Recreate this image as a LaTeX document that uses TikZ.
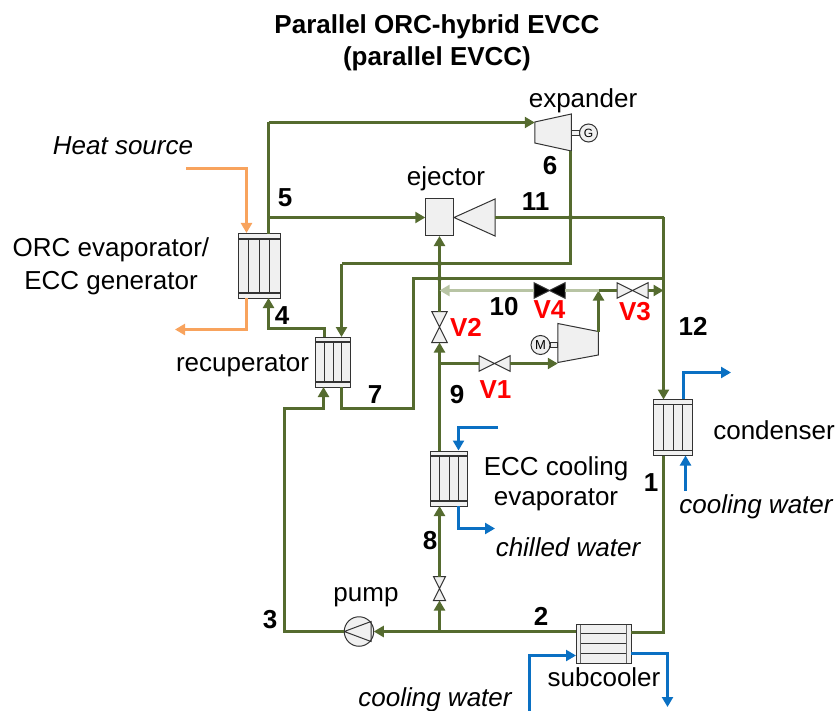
\documentclass[tikz,border=0pt]{standalone}
\usepackage{fontspec}
\setmainfont{Liberation Sans}
\usetikzlibrary{arrows.meta, calc}
\definecolor{pipeGreen}{RGB}{85, 107, 47}
\definecolor{pipeLight}{RGB}{184, 196, 164}
\definecolor{waterBlue}{RGB}{10, 112, 195}
\definecolor{heatOrange}{RGB}{248, 163, 93}
\definecolor{partGray}{RGB}{240, 240, 240}
\tikzset{
    pipe/.style={draw=pipeGreen, line width=2.3pt},
    flow/.style={pipe, -{Triangle[length=10pt,width=11pt]}},
    lightflow/.style={draw=pipeLight, line width=2.3pt, -{Triangle[length=10pt,width=11pt]}},
    water/.style={draw=waterBlue, line width=2.3pt, -{Triangle[length=10pt,width=11pt]}},
    heat/.style={draw=heatOrange, line width=2.3pt, -{Triangle[length=10pt,width=11pt]}},
    joint/.style={circle, fill=pipeGreen, inner sep=0pt, minimum size=5pt},
    part/.style={draw=black!80, fill=partGray, line width=1pt},
    hidden/.style={inner sep=0pt, outer sep=0pt},
    hexv/.style={part, inner sep=0pt, outer sep=0pt, path picture={
        \foreach \f in {0.25,0.5,0.75}
            \draw[black!80, line width=1pt] ($(path picture bounding box.north west)!\f!(path picture bounding box.north east)$) -- ($(path picture bounding box.south west)!\f!(path picture bounding box.south east)$);
        \fill[partGray] (path picture bounding box.north west) rectangle ([yshift=-5pt]path picture bounding box.north east);
        \fill[partGray] (path picture bounding box.south west) rectangle ([yshift=5pt]path picture bounding box.south east);
        \draw[black!80, line width=1.4pt] ([yshift=-5pt]path picture bounding box.north west) -- ([yshift=-5pt]path picture bounding box.north east);
        \draw[black!80, line width=1.4pt] ([yshift=5pt]path picture bounding box.south west) -- ([yshift=5pt]path picture bounding box.south east);
    }},
    hexh/.style={part, inner sep=0pt, outer sep=0pt, path picture={
        \foreach \f in {0.25,0.5,0.75}
            \draw[black!80, line width=1pt] ($(path picture bounding box.north west)!\f!(path picture bounding box.south west)$) -- ($(path picture bounding box.north east)!\f!(path picture bounding box.south east)$);
        \fill[partGray] (path picture bounding box.north west) rectangle ([xshift=4.5pt]path picture bounding box.south west);
        \fill[partGray] (path picture bounding box.north east) rectangle ([xshift=-4.5pt]path picture bounding box.south east);
        \draw[black!60, line width=1.4pt] ([xshift=4.5pt]path picture bounding box.north west) -- ([xshift=4.5pt]path picture bounding box.south west);
        \draw[black!60, line width=1.4pt] ([xshift=-4.5pt]path picture bounding box.north east) -- ([xshift=-4.5pt]path picture bounding box.south east);
    }},
    txt/.style={inner sep=0pt, font=\fontsize{26}{31}\selectfont},
    ital/.style={txt, font=\fontsize{26}{31}\selectfont\itshape},
    num/.style={inner sep=0pt, font=\fontsize{26}{31}\selectfont\bfseries},
    vname/.style={num, text=red},
}
% bow-tie valve: [fill]{name}{position}{width}{height}
\newcommand{\valvebow}[5][partGray]{
    \node[hidden, minimum width=#4pt, minimum height=#5pt] (#2) at (#3) {};
    \ifdim #4pt>#5pt
        \draw[draw=black!80, fill=#1, line width=1pt] (#2.north west) -- (#2.south east) -- (#2.north east) -- (#2.south west) -- cycle;
    \else
        \draw[draw=black!80, fill=#1, line width=1pt] (#2.north west) -- (#2.north east) -- (#2.south west) -- (#2.south east) -- cycle;
    \fi
}
\begin{document}
\begin{tikzpicture}[x=1pt, y=-1pt]
    \useasboundingbox (0,0) rectangle (837,711);

    % heat exchangers
    \node[hexv, minimum width=42pt, minimum height=64pt] (evapORC) at (259,266) {};
    \node[hexv, minimum width=35pt, minimum height=50pt] (recup) at (333,362) {};
    \node[hexv, minimum width=37pt, minimum height=55pt] (evapECC) at (449,478.5) {};
    \node[hexv, minimum width=39pt, minimum height=56pt] (condenser) at (673,427.5) {};
    \node[hexh, minimum width=55pt, minimum height=39pt] (subcooler) at (603.5,643.5) {};

    % expander and generator
    \node[hidden, minimum width=36.5pt, minimum height=37pt] (expander) at (553,132.5) {};
    \draw[part] (expander.north east) -- (expander.south east) -- ($(expander.south west)+(0,-8)$) -- ($(expander.north west)+(0,8)$) -- cycle;
    \node[circle, part, inner sep=0pt, minimum size=18pt, font=\fontsize{12}{12}\selectfont] (gen) at (588.5,133) {G};
    \draw[part] (571,131) rectangle (579.5,135.5);

    % ejector
    \node[part, inner sep=0pt, outer sep=0pt, minimum width=28.5pt, minimum height=37pt] (ejectorBox) at (439.5,217.5) {};
    \node[hidden, minimum width=41pt, minimum height=37pt] (nozzle) at (474.5,217.5) {};
    \draw[part] (nozzle.west) -- (nozzle.north east) -- (nozzle.south east) -- cycle;

    % compressor and motor
    \node[hidden, minimum width=40.5pt, minimum height=39pt] (comp) at (578,343) {};
    \draw[part] (comp.north west) -- (comp.south west) -- ($(comp.south east)+(0,-7.5)$) -- ($(comp.north east)+(0,8)$) -- cycle;
    \node[circle, part, inner sep=0pt, minimum size=19pt, font=\fontsize{13}{13}\selectfont] (motor) at (540.5,345) {M};
    \draw[part] (550,342.5) rectangle (557.5,347.5);

    % pump
    \node[circle, part, inner sep=0pt, outer sep=0pt, minimum size=29.5pt] (pump) at (359,631.5) {};
    \draw[black!80, line width=1pt] (371,621.5) -- (pump.west) -- (371,641.5) -- cycle;

    % valves
    \valvebow{v1}{494.5,363.5}{31}{15.5}
    \valvebow{v2}{439.5,327}{15.5}{31}
    \valvebow{v3}{632.5,290.5}{31}{15.5}
    \valvebow[black]{v4}{549.5,290.5}{31}{15.5}
    \valvebow{v8}{439.5,588.5}{12}{24}

    % junctions
    \coordinate (split5) at (268.5,217.5);
    \coordinate (top5) at (268.5,122.5);
    \coordinate (bend6) at (570.5,263.5);
    \coordinate (bendRec) at (341.5,263.5);
    \coordinate (bend4) at (268.5,328.5);
    \coordinate (bend3) at (284.5,408.5);
    \coordinate (bend7) at (413.5,408.5);
    \coordinate (bend11) at (663.5,217.5);
    \coordinate (tee7) at (663.5,278.5);
    \coordinate (split9) at (439.5,363.5);
    \coordinate (teeOut) at (598.5,290.5);
    \coordinate (tee10) at (663.5,290.5);
    \coordinate (split2) at (439.5,631.5);
    \node[joint] (dot11) at (570.5,217.5) {};
    \node[joint] (dot6) at (439.5,263.5) {};
    \node[joint] (dot7) at (439.5,278.5) {};

    % working fluid pipes
    \draw[pipe] (evapORC.north -| top5) -- (top5);
    \draw[flow] (top5) -- (top5 -| expander.west);
    \draw[flow] (split5) -- (split5 -| ejectorBox.west);
    \draw[pipe] (bend6 |- expander.south) -- (bend6) -- (bendRec);
    \draw[flow] (bendRec) -- (bendRec |- recup.north);
    \draw[pipe] (nozzle.east) -- (bend11);
    \draw[flow] (bend11) -- (bend11 |- condenser.north);
    \draw[flow] (324.5,336.7) -- (324.5,328.5) -- (bend4) -- (bend4 |- evapORC.south);
    \draw[flow] (pump.west) -- (pump.west -| bend3) -- (bend3) -- (323.5,408.5) -- (323.5,387);
    \draw[pipe] (341.5,387) -- (341.5,408.5) -- (bend7) -- (bend7 |- tee7) -- (tee7);
    \draw[flow] (evapECC.north -| split9) -- (v2.south);
    \draw[flow] (v2.north) -- (ejectorBox.south);
    \draw[pipe] (split9) -- (v1.west);
    \draw[flow] (v1.east) -- (comp.west |- v1.east);
    \draw[flow] (598.5,332) -- (teeOut);
    \draw[pipe] (teeOut) -- (v3.west);
    \draw[flow] (v3.east) -- (tee10);
    \draw[lightflow] (v4.west) -- (v4.west -| dot7);
    \draw[draw=pipeLight, line width=2.3pt] (teeOut) -- (v4.east);
    \draw[pipe] (condenser.south -| tee7) -- (663.5,632.5) -- (subcooler.east |- 663.5,632.5);
    \draw[flow] (subcooler.west |- split2) -- (pump.east);
    \draw[flow] (split2) -- (v8.south);
    \draw[flow] (v8.north) -- (evapECC.south -| v8.north);

    % heat source
    \coordinate (heatIn) at (186,168.5);
    \coordinate (heatOut) at (175,329.5);
    \draw[heat] (heatIn) -- (246.5,168.5) -- (246.5,233);
    \draw[heat] (246.5,298) -- (246.5,329.5) -- (heatOut);

    % water circuits
    \coordinate (condOut) at (731,372.5);
    \coordinate (condIn) at (685.5,491);
    \coordinate (eccIn) at (498,427.5);
    \coordinate (eccOut) at (495,528.5);
    \coordinate (subIn) at (529.5,711);
    \coordinate (subOut) at (667.5,707);
    \draw[water] (683.5,399) -- (683.5,372.5) -- (condOut);
    \draw[water] (condIn) -- (condIn |- condenser.south);
    \draw[water] (eccIn) -- (458.5,427.5) -- (458.5,450.5);
    \draw[water] (458.5,506) -- (458.5,528.5) -- (eccOut);
    \draw[water] (subIn) -- (529.5,655.5) -- (subcooler.west |- 529.5,655.5);
    \draw[water] (subcooler.east |- 667.5,653.5) -- (667.5,653.5) -- (subOut);

    % component labels
    \node[inner sep=0pt, align=center, font=\fontsize{26}{32}\selectfont\bfseries] (title) at (437,43) {Parallel ORC-hybrid EVCC\\(parallel EVCC)};
    \node[txt] (lblExpander) at (583,100.5) {expander};
    \node[ital] (lblHeat) at (123,146) {Heat source};
    \node[txt] (lblEjector) at (446,178.5) {ejector};
    \node[txt, align=center, font=\fontsize{26}{33}\selectfont] (lblEvap) at (111,266) {ORC evaporator/\\ECC generator};
    \node[txt] (lblRecup) at (242.5,366) {recuperator};
    \node[txt] (lblCond) at (774,430) {condenser};
    \node[ital] (lblCoolA) at (756,507) {cooling water};
    \node[txt, align=center, font=\fontsize{26}{30}\selectfont] (lblEcc) at (556,484) {ECC cooling\\evaporator};
    \node[ital] (lblChilled) at (568,547) {chilled water};
    \node[txt] (lblPump) at (366,597) {pump};
    \node[txt] (lblSub) at (604,677) {subcooler};
    \node[ital] (lblCoolB) at (435,700) {cooling water};

    % state numbers
    \node[num] (n1) at (651,483) {1};
    \node[num] (n2) at (541,616) {2};
    \node[num] (n3) at (270,620) {3};
    \node[num] (n4) at (282,316) {4};
    \node[num] (n5) at (285,198) {5};
    \node[num] (n6) at (550,166) {6};
    \node[num] (n7) at (375,395) {7};
    \node[num] (n8) at (430,541) {8};
    \node[num] (n9) at (457,395) {9};
    \node[num] (n10) at (504,307) {10};
    \node[num] (n11) at (535.5,202) {11};
    \node[num] (n12) at (693,326) {12};

    % valve names
    \node[vname] (lblV1) at (495.5,390) {V1};
    \node[vname] (lblV2) at (466,327) {V2};
    \node[vname] (lblV3) at (635,312) {V3};
    \node[vname] (lblV4) at (549.5,310) {V4};
\end{tikzpicture}
\end{document}
